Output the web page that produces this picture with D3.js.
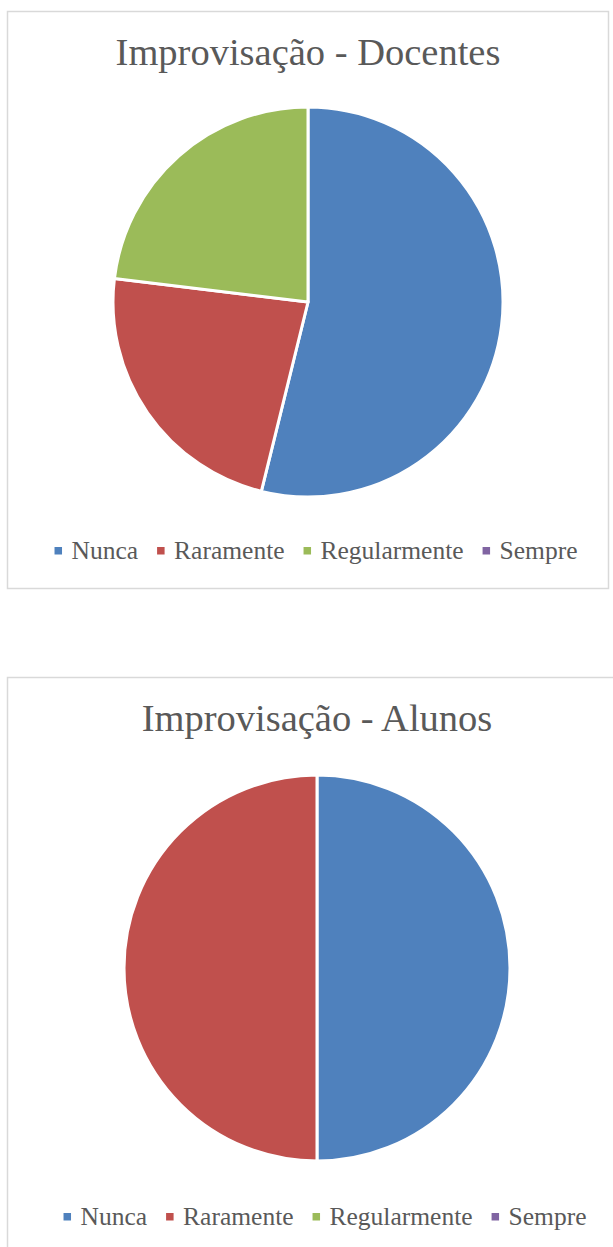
<!DOCTYPE html>
<html>
<head>
<meta charset="utf-8">
<script src="https://cdn.jsdelivr.net/npm/d3@7"></script>
<style>
  body { margin: 0; background: #fff; }
  svg { display: block; }
</style>
</head>
<body>
<svg id="svg" width="613" height="1247"></svg>
<script>
'use strict'

var categories = ['Nunca', 'Raramente', 'Regularmente', 'Sempre'];
var colors = ['#4F81BD', '#C0504D', '#9BBB59', '#8064A2'];
var docentes = [7, 3, 3, 0];
var alunos = [1, 1, 0, 0];
var titles = ['Improvisação - Docentes', 'Improvisação - Alunos'];

var svg = d3.select('#svg');
var textColor = '#595959';
var font = '"Liberation Serif", "DejaVu Serif", serif';

var color = d3.scaleOrdinal().domain(categories).range(colors);

// x, y, w, h of each chart frame
drawChart({x: 7.5, y: 11.5, w: 601, h: 577, r: 195}, titles[0], docentes);
drawChart({x: 7.5, y: 677.5, w: 619, h: 600, r: 193}, titles[1], alunos);

function drawChart(box, title, values) {
  var g = svg.append('g').attr('transform', 'translate(' + box.x + ',' + box.y + ')');
  var cx = box.w / 2;

  g.append('rect')
    .attr('width', box.w)
    .attr('height', box.h)
    .attr('fill', '#fff')
    .attr('stroke', '#d9d9d9')
    .attr('stroke-width', 1.5);

  g.append('text')
    .attr('x', cx)
    .attr('y', 53.5)
    .attr('text-anchor', 'middle')
    .attr('font-family', font)
    .attr('font-size', 38.5)
    .attr('fill', textColor)
    .text(title);

  var data = categories.map(function(c, i) { return {cat: c, value: values[i]}; });
  var pie = d3.pie().sort(null).value(function(d) { return d.value; });
  var arc = d3.arc().innerRadius(0).outerRadius(box.r);

  g.append('g')
    .attr('transform', 'translate(' + cx + ',' + 290.5 + ')')
    .selectAll('path')
    .data(pie(data).filter(function(d) { return d.value > 0; }))
    .enter()
    .append('path')
    .attr('d', arc)
    .attr('fill', function(d) { return color(d.data.cat); })
    .attr('stroke', '#fff')
    .attr('stroke-width', 3)
    .attr('stroke-linejoin', 'round');

  // legend: lay out items in a row, then center it
  var leg = g.append('g');
  var xPos = 0;
  categories.forEach(function(c) {
    var item = leg.append('g').attr('transform', 'translate(' + xPos + ',0)');
    item.append('rect')
      .attr('x', 0).attr('y', -4)
      .attr('width', 7.5).attr('height', 7.5)
      .attr('fill', color(c));
    var t = item.append('text')
      .attr('x', 17)
      .attr('y', 7.5)
      .attr('font-family', font)
      .attr('font-size', 25.5)
      .attr('fill', textColor)
      .text(c);
    xPos += 17 + t.node().getComputedTextLength() + 19;
  });
  var legWidth = xPos - 19;
  leg.attr('transform', 'translate(' + (cx + 8 - legWidth / 2) + ',' + 539.5 + ')');
}
</script>
</body>
</html>
